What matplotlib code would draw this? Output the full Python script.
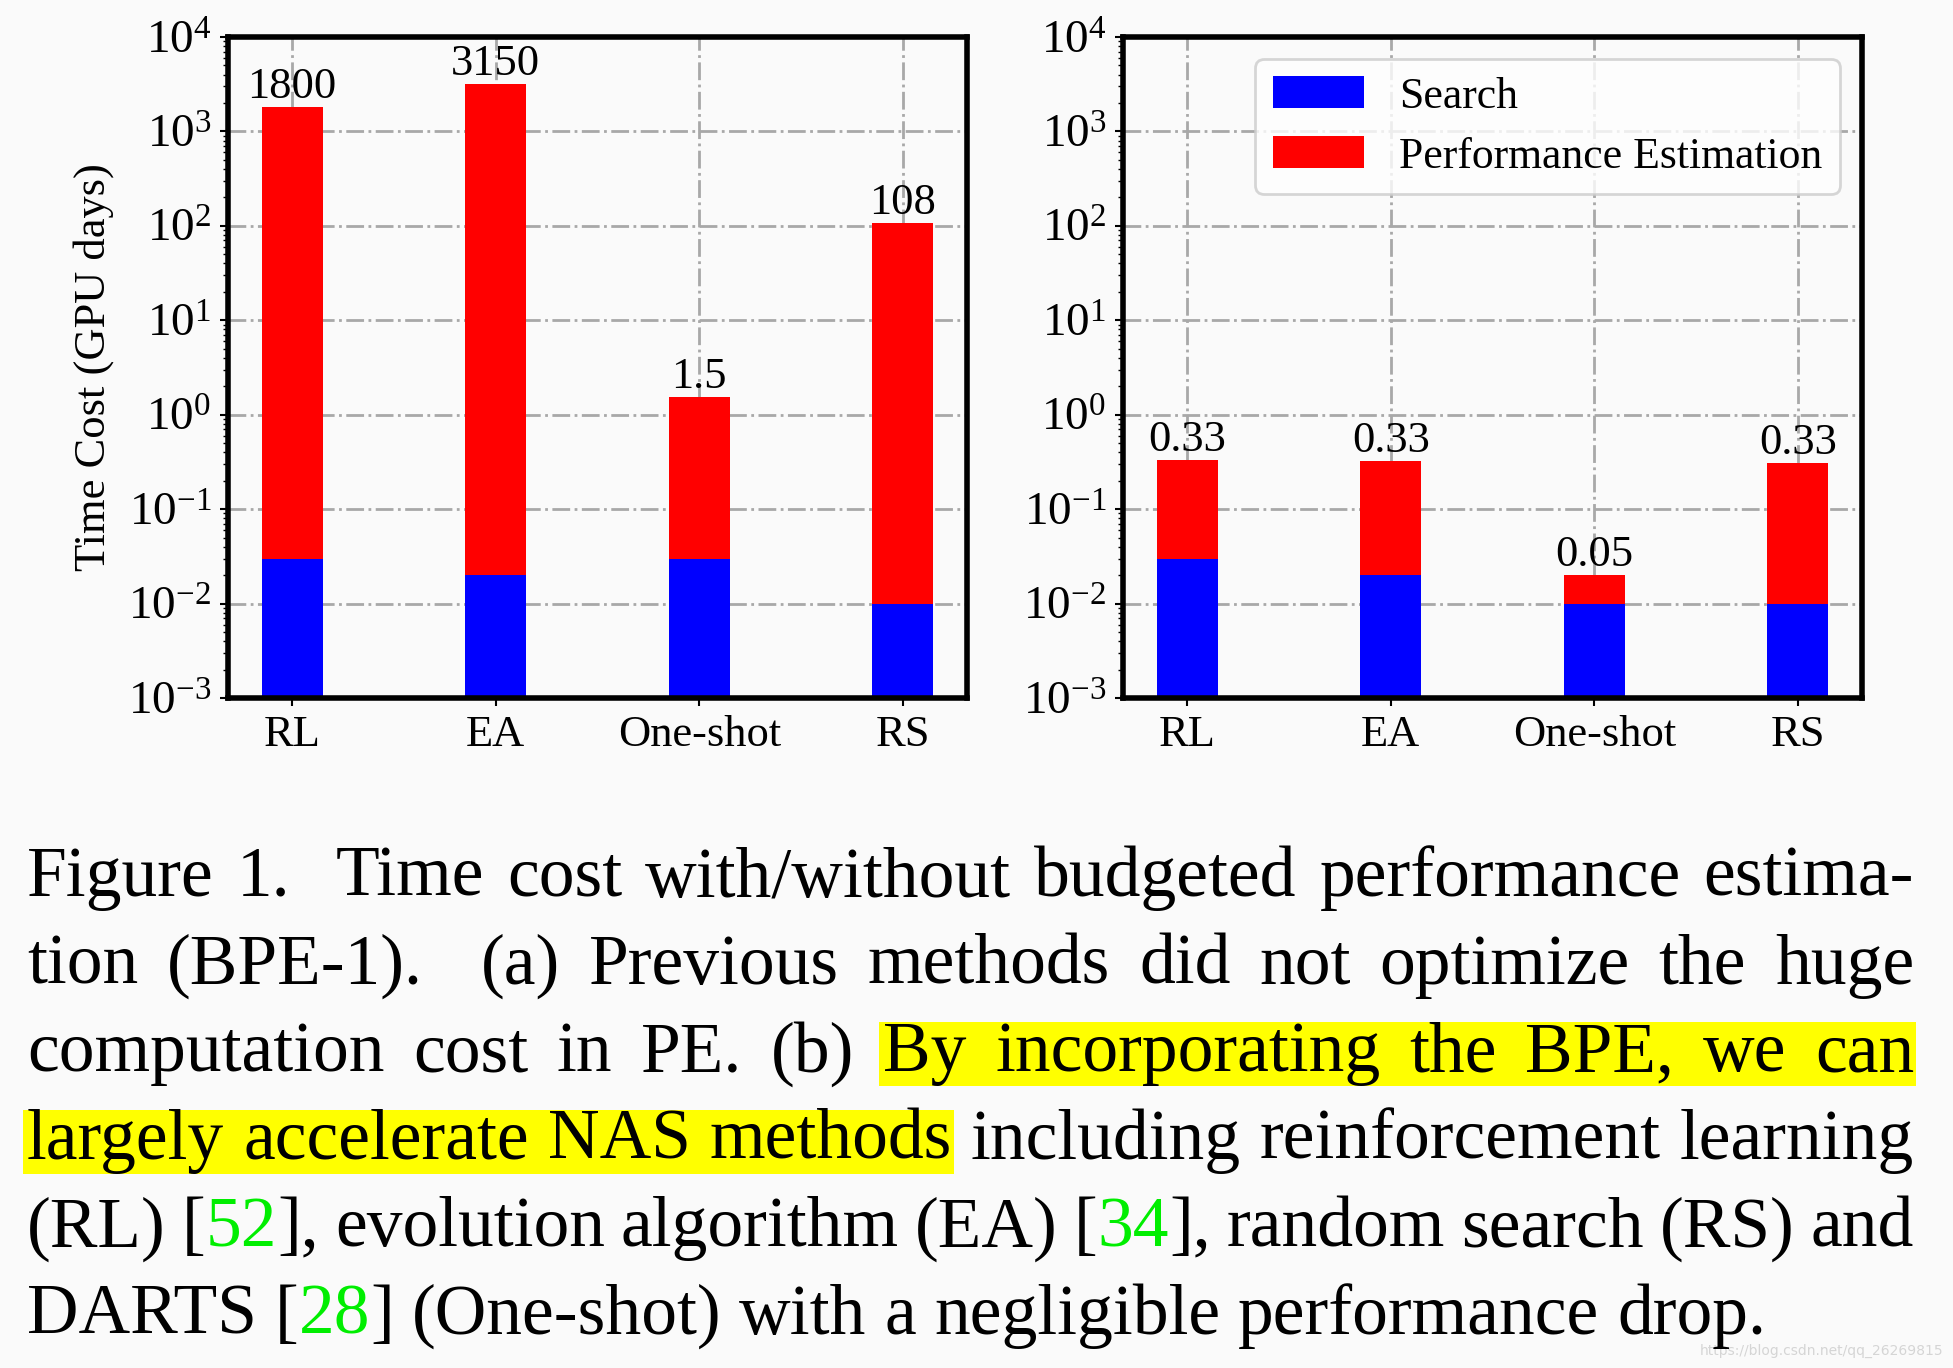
import matplotlib
matplotlib.use('Agg')
import matplotlib.pyplot as plt
from matplotlib.patches import Rectangle
from matplotlib.ticker import LogLocator

plt.rcParams['font.family'] = 'serif'
plt.rcParams['font.serif'] = ['Liberation Serif', 'DejaVu Serif']
plt.rcParams['mathtext.fontset'] = 'stix'

# data
methods = ['RL', 'EA', 'One-shot', 'RS']
search_a = [0.03, 0.02, 0.03, 0.01]
pe_a = [1800, 3150, 1.5, 108]
labels_a = ['1800', '3150', '1.5', '108']
search_b = [0.03, 0.02, 0.01, 0.01]
pe_b = [0.3, 0.3, 0.01, 0.3]
labels_b = ['0.33', '0.33', '0.05', '0.33']

# caption: '|' wraps green refs, double space = wider gap
caption = [
    'Figure 1.  Time cost with/without budgeted performance estima-',
    'tion (BPE-1).  (a) Previous methods did not optimize the huge',
    'computation cost in PE. (b) By incorporating the BPE, we can',
    'largely accelerate NAS methods including reinforcement learning',
    '(RL) [|52|], evolution algorithm (EA) [|34|], random search (RS) and',
    'DARTS [|28|] (One-shot) with a negligible performance drop.',
]
highlight = {2: (5, 10), 3: (0, 3)}  # word index ranges on a line

bg = '#fafafa'
W, H = 1953, 1368
fs = 32
fig = plt.figure(figsize=(W / 100, H / 100), dpi=100, facecolor=bg)


def draw_panel(ax, search, pe, labels, legend=False):
    x = range(len(methods))
    ax.bar(x, search, 0.3, color='#0000ff', label='Search', zorder=2)
    ax.bar(x, pe, 0.3, bottom=search, color='#ff0000',
           label='Performance Estimation', zorder=2)
    ax.set_yscale('log')
    ax.set_ylim(1e-3, 1e4)
    ax.yaxis.set_major_locator(LogLocator(base=10, numticks=20))
    ax.yaxis.set_minor_locator(LogLocator(base=10, subs='auto', numticks=20))
    ax.set_xticks(list(x))
    ax.set_xticklabels(methods)
    ax.set_facecolor(bg)
    ax.grid(True, which='major', linestyle='-.', color='#a8a8a8', linewidth=2)
    ax.set_axisbelow(True)
    for sp in ax.spines.values():
        sp.set_linewidth(4)
    ax.tick_params(which='major', length=6, width=1.5, labelsize=fs, pad=6)
    ax.tick_params(axis='y', which='major', labelsize=fs + 2)
    ax.tick_params(which='minor', length=3.5, width=1)
    ax.tick_params(axis='x', which='minor', bottom=False)
    for i in x:
        ax.annotate(labels[i], (i, search[i] + pe[i]), xytext=(0, 0),
                    textcoords='offset points', ha='center', va='bottom',
                    fontsize=fs)
    if legend:
        leg = ax.legend(loc='upper right', fontsize=31.5, handlelength=2.1,
                        handleheight=0.75, labelspacing=0.45,
                        edgecolor='#cccccc', framealpha=0.8)
        leg.get_frame().set_linewidth(2)


ax1 = fig.add_axes([228 / W, 1 - 698 / H, 739 / W, 661 / H])
ax2 = fig.add_axes([1123 / W, 1 - 698 / H, 739 / W, 661 / H])
draw_panel(ax1, search_a, pe_a, labels_a)
draw_panel(ax2, search_b, pe_b, labels_b, legend=True)
ax1.set_ylabel('Time Cost (GPU days)', fontsize=fs, labelpad=10)

# caption text, justified word by word
renderer = fig.canvas.get_renderer()
cap_fs = 51.5
L, R = 27, 1914
base0, step = 896, 87.6

t1 = fig.text(0, 0, 'a a', fontsize=cap_fs)
t2 = fig.text(0, 0, 'aa', fontsize=cap_fs)
space_w = (t1.get_window_extent(renderer).width
           - t2.get_window_extent(renderer).width)
t1.remove()
t2.remove()

for li, line in enumerate(caption):
    y = 1 - (base0 + li * step) / H
    words, weights = [], []
    pending = 0
    for tok in line.split(' '):
        if tok == '':
            pending += 1
            continue
        if words:
            weights.append(1 + pending)
        pending = 0
        words.append(tok)

    drawn = []
    total = 0
    for w in words:
        pieces = []
        for k, p in enumerate(w.split('|')):
            if p == '':
                continue
            col = '#00ee00' if k % 2 else 'black'
            t = fig.text(0, y, p, fontsize=cap_fs, color=col, va='baseline',
                         zorder=5)
            pw = t.get_window_extent(renderer).width
            pieces.append((t, pw))
            total += pw
        drawn.append(pieces)

    if li == len(caption) - 1:
        unit = space_w
    else:
        unit = (R - L - total) / sum(weights)

    cur = L
    starts, ends = [], []
    for wi, pieces in enumerate(drawn):
        starts.append(cur)
        for t, pw in pieces:
            t.set_x(cur / W)
            cur += pw
        ends.append(cur)
        if wi < len(weights):
            cur += unit * weights[wi]

    if li in highlight:
        a, b = highlight[li]
        bl = base0 + li * step
        x0, x1 = starts[a] - 4, ends[b] + 2
        fig.add_artist(Rectangle((x0 / W, 1 - (bl + 15) / H),
                                 (x1 - x0) / W, 64 / H,
                                 transform=fig.transFigure,
                                 facecolor='#ffff00', edgecolor='none',
                                 zorder=1))

fig.text(1943 / W, 1 - 1355 / H, 'https://blog.csdn.net/qq_26269815',
         fontsize=10, family='DejaVu Sans', color='#d5d5d5', ha='right',
         va='baseline')

fig.savefig('out.png', dpi=100, facecolor=bg)
